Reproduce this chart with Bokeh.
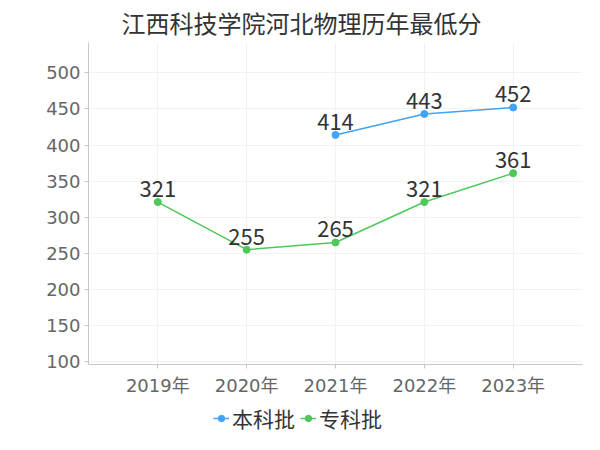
from bokeh.plotting import figure
from bokeh.layouts import column
from bokeh.models import (FactorRange, Range1d, FixedTicker, Legend, LegendItem,
                          ColumnDataSource)
from bokeh.core.properties import value
from bokeh.embed import file_html
from bokeh.resources import INLINE

title = "江西科技学院河北物理历年最低分"
years = ["2019年", "2020年", "2021年", "2022年", "2023年"]
ben_years = ["2021年", "2022年", "2023年"]
ben_scores = [414, 443, 452]
zhuan_years = ["2019年", "2020年", "2021年", "2022年", "2023年"]
zhuan_scores = [321, 255, 265, 321, 361]
y_ticks = [100, 150, 200, 250, 300, 350, 400, 450, 500]
series_names = ["本科批", "专科批"]
colors = ["#3fa4f8", "#4cc95a"]

LATIN = "DejaVu Sans, Noto Sans CJK SC"
CJK = "Noto Sans CJK SC"

p = figure(width=584, height=398, output_backend="svg", toolbar_location=None,
           x_range=FactorRange(factors=years, range_padding=0.28,
                               range_padding_units="absolute"),
           y_range=Range1d(96, 542),
           min_border_left=88, min_border_right=2, min_border_top=42,
           min_border_bottom=32)

p.title.text = title
p.title.align = "left"
p.title.vertical_align = "top"
p.title.text_font = CJK
p.title.text_font_size = "24px"
p.title.text_font_style = "normal"
p.title.text_color = "#333333"
p.title.offset = 33
p.title.standoff = 2

p.outline_line_color = None
p.background_fill_color = "white"
p.border_fill_color = "white"

# grids
p.xgrid.grid_line_color = "#f2f2f2"
p.ygrid.grid_line_color = "#f2f2f2"
p.ygrid.ticker = FixedTicker(ticks=y_ticks)

# axes
p.yaxis.ticker = FixedTicker(ticks=y_ticks)
for ax in (p.xaxis[0], p.yaxis[0]):
    ax.axis_line_color = "#c8c8c8"
    ax.major_tick_line_color = "#c8c8c8"
    ax.minor_tick_line_color = None
    ax.major_tick_in = 0
    ax.major_tick_out = 4
    ax.major_label_text_font = LATIN
    ax.major_label_text_font_size = "18px"
    ax.major_label_text_color = "#666666"
p.yaxis.major_label_standoff = 4
p.xaxis.major_label_standoff = 6

src_b = ColumnDataSource(dict(x=ben_years, y=ben_scores, t=[str(v) for v in ben_scores]))
src_z = ColumnDataSource(dict(x=zhuan_years, y=zhuan_scores, t=[str(v) for v in zhuan_scores]))

p.line("x", "y", source=src_b, line_color=colors[0], line_width=1.5)
p.scatter("x", "y", source=src_b, size=7, fill_color=colors[0], line_color=colors[0])
p.line("x", "y", source=src_z, line_color=colors[1], line_width=1.5)
p.scatter("x", "y", source=src_z, size=7, fill_color=colors[1], line_color=colors[1])

for src in (src_b, src_z):
    p.text("x", "y", text="t", source=src, text_align="center", text_baseline="bottom",
           y_offset=-5, text_font=value(CJK), text_font_size="22px", text_color="#333333")

# legend strip (separate figure so the legend can sit below the axis)
lg = figure(width=584, height=36, output_backend="svg", toolbar_location=None,
            min_border=0, x_axis_type=None, y_axis_type=None,
            x_range=FactorRange(factors=years), y_range=Range1d(0, 1))
lg.outline_line_color = None
lg.grid.visible = False
lg.border_fill_color = "white"
items = []
for name, c, src in zip(series_names, colors, (src_b, src_z)):
    r1 = lg.line("x", "y", source=src, line_color=c, line_width=1.5, visible=False)
    r2 = lg.scatter("x", "y", source=src, size=7, fill_color=c, line_color=c, visible=False)
    items.append(LegendItem(label=name, renderers=[r1, r2]))

legend = Legend(items=items, orientation="horizontal", location=(125, 1),
                label_text_font=CJK, label_text_font_size="21px",
                label_text_color="#333333", glyph_width=16, glyph_height=16,
                label_standoff=3, spacing=5, padding=0, margin=0,
                border_line_color=None, background_fill_alpha=0)
lg.add_layout(legend, "center")

layout = column(p, lg, spacing=0)
open("out.html", "w").write(file_html(layout, INLINE))
